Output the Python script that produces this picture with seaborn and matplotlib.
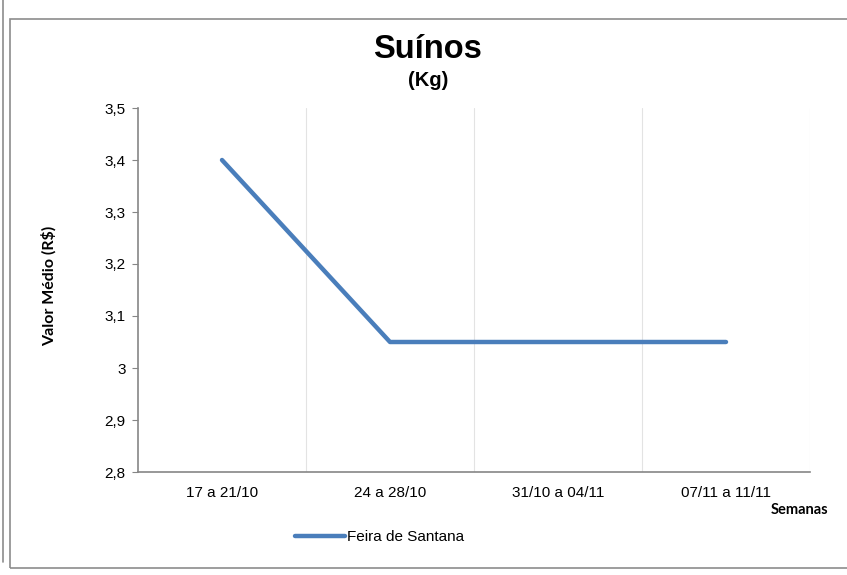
import matplotlib
matplotlib.use("Agg")
import matplotlib.pyplot as plt
from matplotlib.lines import Line2D
from matplotlib.patches import Rectangle
import seaborn as sns
import pandas as pd

semanas = ["17 a 21/10", "24 a 28/10", "31/10 a 04/11", "07/11 a 11/11"]
feira_de_santana = [3.40, 3.05, 3.05, 3.05]
y_ticks = [2.8, 2.9, 3.0, 3.1, 3.2, 3.3, 3.4, 3.5]
y_labels = ["2,8", "2,9", "3", "3,1", "3,2", "3,3", "3,4", "3,5"]

df = pd.DataFrame({"Semana": semanas, "Valor": feira_de_santana})
df["pos"] = range(len(df))

sns.set_style("white")
plt.rcParams["font.family"] = ["Liberation Sans", "DejaVu Sans"]
plt.rcParams["text.color"] = "black"
plt.rcParams["xtick.labelcolor"] = "black"
plt.rcParams["ytick.labelcolor"] = "black"

fig = plt.figure(figsize=(8.47, 5.75), dpi=100)
W, H = 847, 575
ax = fig.add_axes([138 / W, 1 - 472 / H, 672 / W, (472 - 108) / H])

sns.lineplot(data=df, x="pos", y="Valor", ax=ax, color="#4A7EBB",
             linewidth=3.2, legend=False)

ax.set_xlim(-0.5, 3.5)
ax.set_ylim(2.8, 3.5)
ax.set_yticks(y_ticks)
ax.set_yticklabels(y_labels, fontsize=11)
ax.set_xticks([0, 1, 2, 3])
ax.set_xticklabels(semanas, fontsize=11)
ax.set_xticks([-0.5, 0.5, 1.5, 2.5, 3.5], minor=True)
ax.tick_params(axis="x", which="major", length=0, pad=10)
ax.tick_params(axis="x", which="minor", length=4, color="#868686", direction="out")
ax.tick_params(axis="y", length=4, color="#868686", direction="out", left=True, pad=5)
ax.grid(False)
for xb in [0.5, 1.5, 2.5, 3.5]:
    ax.axvline(xb, color="#E3E3E3", linewidth=0.8, zorder=0)

for side in ["top", "right"]:
    ax.spines[side].set_visible(False)
for side in ["left", "bottom"]:
    ax.spines[side].set_color("#868686")
    ax.spines[side].set_linewidth(1.2)
ax.set_xlabel("")
ax.set_ylabel("")

fig.text(427 / W, 1 - 49 / H, "Suínos", ha="center", va="center",
         fontsize=23.5, fontweight="bold")
fig.text(428 / W, 1 - 81 / H, "(Kg)", ha="center", va="center",
         fontsize=14.5, fontweight="bold")
fig.text(49 / W, 1 - 286 / H, "Valor Médio (R$)", rotation=90, ha="center",
         va="center", fontsize=11.5, fontweight="bold",
         family=["Lato", "Liberation Sans", "DejaVu Sans"])
fig.text(828 / W, 1 - 510 / H, "Semanas", ha="right", va="center",
         fontsize=10.5, fontweight="bold",
         family=["Lato", "Liberation Sans", "DejaVu Sans"])

handle = Line2D([], [], color="#4A7EBB", linewidth=3.2)
fig.legend([handle], ["Feira de Santana"], loc="center left",
           bbox_to_anchor=(295 / W, 1 - 537 / H), frameon=False,
           fontsize=11, handlelength=3.3, handletextpad=0.1,
           borderpad=0, borderaxespad=0)

fig.add_artist(Rectangle((10 / W, 1 - 568 / H), 840 / W, (568 - 19) / H,
                         transform=fig.transFigure, fill=False,
                         edgecolor="#8C8C8C", linewidth=1.2))
fig.add_artist(Line2D([3 / W, 3 / W], [1 - 562 / H, 1], transform=fig.transFigure,
                      color="#8C8C8C", linewidth=1.2))

fig.savefig("out.png", dpi=100)
